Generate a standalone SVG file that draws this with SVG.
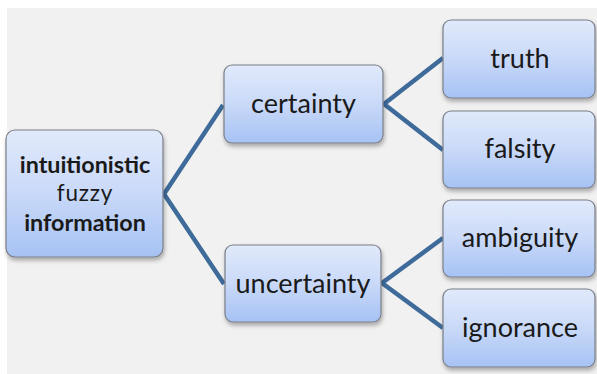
<svg xmlns="http://www.w3.org/2000/svg" width="597" height="374" viewBox="0 0 597 374">
<style>
.box{fill:url(#g);stroke:#7a7f88;stroke-width:1.2;filter:url(#sh)}
.t{font-family:Lato,"Open Sans",sans-serif;font-size:27px;fill:#1a1a1a;text-anchor:middle}
.b{font-weight:bold;font-size:23.3px}
.f{font-size:22.5px;letter-spacing:0.8px}
.c{stroke:#3f6b9b;stroke-width:4.5;fill:none;stroke-linejoin:miter}
</style>
<defs>
<linearGradient id="g" x1="0" y1="0" x2="0" y2="1">
<stop offset="0" stop-color="#e1eafb"/>
<stop offset="0.5" stop-color="#c9d9f8"/>
<stop offset="1" stop-color="#a6c2f4"/>
</linearGradient>
<filter id="sh" x="-10%" y="-10%" width="125%" height="130%">
<feDropShadow dx="1" dy="3" stdDeviation="2" flood-color="#000" flood-opacity="0.3"/>
</filter>
</defs>
<rect x="0" y="0" width="597" height="374" fill="#fff"/>
<rect x="7" y="8" width="590" height="366" fill="#f1f1f1"/>
<g id="connectors">
<polyline class="c" points="223,105 164,194 224,284"/>
<polyline class="c" points="443,58 384,104 443,150"/>
<polyline class="c" points="443,238 382,283 443,328"/>
</g>
<g id="root">
<rect class="box" x="6" y="130" width="157" height="127" rx="9"/>
<text class="t b" x="85" y="173">intuitionistic</text>
<text class="t f" x="85" y="201">fuzzy</text>
<text class="t b" x="85" y="231">information</text>
</g>
<g id="certainty">
<rect class="box" x="224" y="65" width="159" height="78" rx="8"/>
<text class="t" x="303.5" y="113">certainty</text>
</g>
<g id="uncertainty">
<rect class="box" x="225" y="245" width="156" height="77" rx="8"/>
<text class="t" x="303" y="293">uncertainty</text>
</g>
<g id="truth">
<rect class="box" x="443" y="20" width="152" height="78" rx="8"/>
<text class="t" x="520" y="68">truth</text>
</g>
<g id="falsity">
<rect class="box" x="443" y="111" width="152" height="77" rx="8"/>
<text class="t" x="520" y="158">falsity</text>
</g>
<g id="ambiguity">
<rect class="box" x="443" y="200" width="152" height="77" rx="8"/>
<text class="t" x="520" y="247">ambiguity</text>
</g>
<g id="ignorance">
<rect class="box" x="443" y="289" width="152" height="78" rx="8"/>
<text class="t" x="520" y="337">ignorance</text>
</g>
</svg>
